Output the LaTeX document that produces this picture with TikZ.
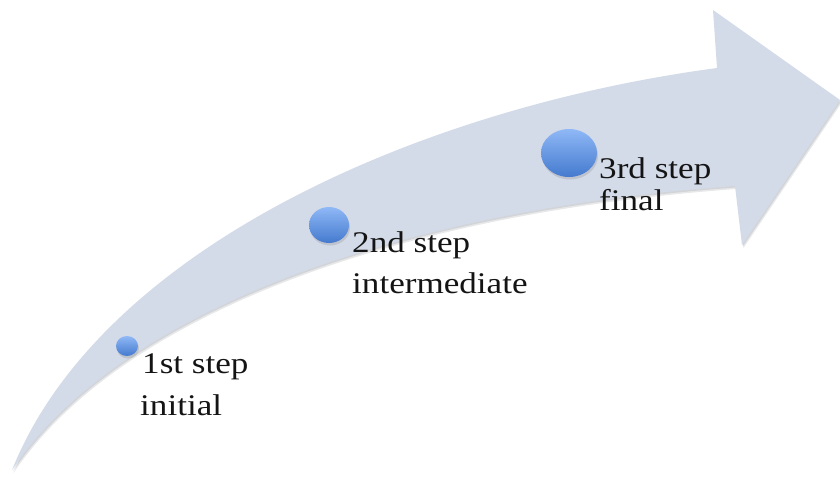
\documentclass[tikz,border=0pt]{standalone}
\usepackage{fontspec}
\setmainfont{Liberation Serif}[FakeStretch=1.17]
\usetikzlibrary{shapes.geometric,shadows}
\definecolor{bandfill}{RGB}{211,218,232}
\definecolor{bandshade}{RGB}{120,125,135}
\definecolor{dottop}{RGB}{143,184,246}
\definecolor{dotbot}{RGB}{68,122,206}
\definecolor{labelink}{RGB}{20,20,20}
% outline of the curved arrow: upper edge, head, lower edge back to the tail point
\def\curvedarrow{(12,470) .. controls (100,250) and (417,108) .. (717,68)
  -- (713,10) -- (840,100) -- (742,245) -- (735,186)
  .. controls (400,210) and (120,310) .. cycle}
\begin{document}
\begin{tikzpicture}[x=1pt,y=-1pt,
  stepdot/.style={ellipse, inner sep=0pt, top color=dottop, bottom color=dotbot,
    drop shadow={shadow xshift=1pt, shadow yshift=-2.5pt, opacity=0.25}},
  steplabel/.style={anchor=base west, inner sep=0pt, text=labelink,
    font=\fontsize{30}{36}\selectfont}]
\useasboundingbox (0,0) rectangle (840,477);
% soft shadow under the arrow
\fill[bandshade, opacity=0.18, shift={(1.5,3)}] \curvedarrow;
\fill[bandshade, opacity=0.18, shift={(0.8,1.5)}] \curvedarrow;
\fill[bandfill] \curvedarrow;
% step markers
\node[stepdot, minimum width=22, minimum height=20] (d1) at (127,346) {};
\node[stepdot, minimum width=40, minimum height=36] (d2) at (329,225) {};
\node[stepdot, minimum width=56, minimum height=48] (d3) at (569,153) {};
% labels
\node[steplabel] (l1a) at (142,373) {1st step};
\node[steplabel] (l1b) at (140,415) {initial};
\node[steplabel] (l2a) at (352,252) {2nd step};
\node[steplabel] (l2b) at (352,293) {intermediate};
\node[steplabel] (l3a) at (599,178) {3rd step};
\node[steplabel] (l3b) at (599,210) {final};
\end{tikzpicture}
\end{document}
